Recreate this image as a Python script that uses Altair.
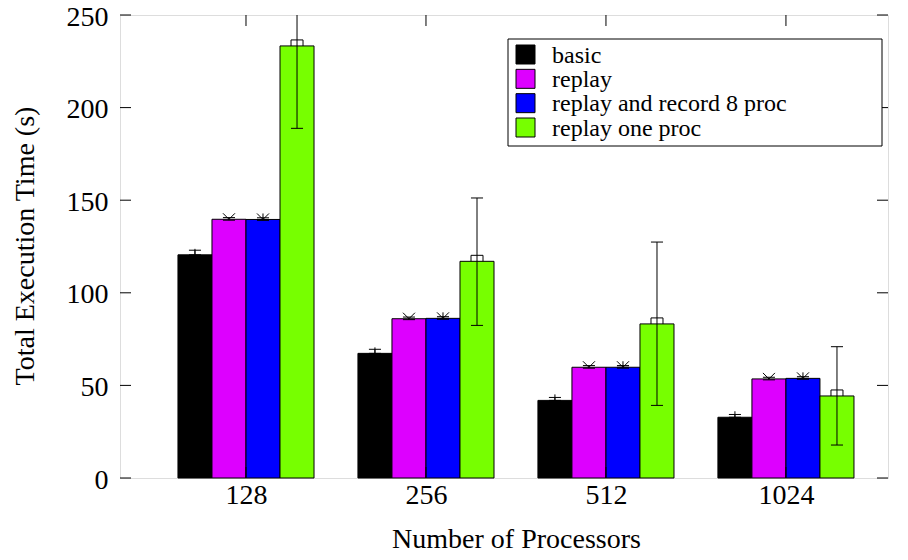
import altair as alt
import pandas as pd

categories = ["128", "256", "512", "1024"]
series = ["basic", "replay", "replay and record 8 proc", "replay one proc"]
colors = ["#000000", "#dd00ff", "#0000ff", "#77ff00"]

# bar heights (mean values)
bar_basic = [120.5, 67.3, 41.9, 32.8]
bar_replay = [139.7, 86.0, 59.8, 53.5]
bar_record8 = [139.6, 86.2, 59.8, 53.8]
bar_one = [233.3, 117.0, 83.2, 44.3]

# error bar ranges
lo_basic = [120.0, 66.8, 41.5, 32.3]
hi_basic = [123.0, 69.5, 43.5, 34.3]
lo_replay = [139.2, 85.5, 59.3, 53.0]
hi_replay = [140.6, 86.9, 60.7, 54.4]
lo_record8 = [139.1, 85.7, 59.3, 53.3]
hi_record8 = [140.5, 87.1, 60.7, 54.7]
lo_one = [188.8, 82.4, 39.2, 17.8]
hi_one = [280.0, 151.2, 127.4, 70.9]

y_ticks = [0, 50, 100, 150, 200, 250]
x_tick_pos = [0, 1, 2, 3]
x_domain = [-0.7, 3.567]

bars = [bar_basic, bar_replay, bar_record8, bar_one]
los = [lo_basic, lo_replay, lo_record8, lo_one]
his = [hi_basic, hi_replay, hi_record8, hi_one]
shape_paths = [
    "M-1,0L1,0M0,-1L0,1",
    "M-1,-1L1,1M-1,1L1,-1",
    "M-1,0L1,0M0,-1L0,1M-1,-1L1,1M-1,1L1,-1",
    "M-1,-1L1,-1L1,1L-1,1Z",
]

bar_w = 0.189
cap_w = 0.067
rows = []
for i, cat in enumerate(categories):
    for j, s in enumerate(series):
        c = i + (j - 1.5) * bar_w
        rows.append({
            "cat": cat, "series": s, "shp": s, "order": j,
            "c": c, "x0": c - bar_w / 2, "x1": c + bar_w / 2,
            "cl": c - cap_w / 2, "cr": c + cap_w / 2,
            "v": bars[j][i], "lo": los[j][i], "hi": his[j][i],
        })
df = pd.DataFrame(rows)

W, H = 768, 463
FONT = "Liberation Serif"

xscale = alt.Scale(domain=x_domain, nice=False, zero=False)
yscale = alt.Scale(domain=[0, 250], nice=False)
color_scale = alt.Scale(domain=series, range=colors)

label_expr = "[" + ",".join(f"'{c}'" for c in categories) + "][round(datum.value)]"

x_axis = alt.Axis(values=x_tick_pos, labelExpr=label_expr, tickSize=0, domain=False,
                  grid=False, labelPadding=3, labelFontSize=28, labelFont=FONT,
                  title="Number of Processors", titleFont=FONT, titleFontSize=28,
                  titleFontWeight="normal", titleX=396, titleY=69,
                  titleBaseline="alphabetic", titleAlign="center", labelColor="black",
                  titleColor="black")
y_axis = alt.Axis(values=y_ticks, tickSize=0, domain=False, grid=False,
                  labelPadding=12, labelFontSize=28, labelFont=FONT, labelOffset=2,
                  title="Total Execution Time (s)", titleFont=FONT, titleFontSize=28,
                  titleFontWeight="normal", titleX=-87, titleY=H / 2 - 1,
                  titleAngle=-90, titleBaseline="alphabetic", titleAlign="center",
                  labelColor="black", titleColor="black")

base = alt.Chart(df)

points = base.mark_point(filled=False, stroke="black", strokeWidth=1, size=144,
                         opacity=1).encode(
    x=alt.X("c:Q", scale=xscale, axis=x_axis),
    y=alt.Y("v:Q", scale=yscale, axis=y_axis),
    shape=alt.Shape("shp:N", scale=alt.Scale(domain=series, range=shape_paths),
                    legend=None),
)

bar_layer = base.mark_bar(stroke="black", strokeWidth=1, opacity=1).encode(
    x="x0:Q",
    x2="x1:Q",
    y="v:Q",
    y2=alt.datum(0),
    fill=alt.Fill("series:N", scale=color_scale, legend=None),
    order="order:Q",
)

err_v = base.mark_rule(color="black", strokeWidth=1, clip=True).encode(
    x="c:Q", y="lo:Q", y2="hi:Q")
cap_lo = base.mark_rule(color="black", strokeWidth=1, clip=True).encode(
    x="cl:Q", x2="cr:Q", y="lo:Q")
cap_hi = base.mark_rule(color="black", strokeWidth=1, clip=True).encode(
    x="cl:Q", x2="cr:Q", y="hi:Q")

yt = pd.DataFrame({"t": y_ticks})
xt = pd.DataFrame({"t": x_tick_pos})
TL = 11
tick_l = alt.Chart(yt).mark_rule(color="black").encode(
    y="t:Q", x=alt.value(0), x2=alt.value(TL))
tick_r = alt.Chart(yt).mark_rule(color="black").encode(
    y="t:Q", x=alt.value(W - TL), x2=alt.value(W))
tick_t = alt.Chart(xt).mark_rule(color="black").encode(
    x="t:Q", y=alt.value(0), y2=alt.value(TL))
tick_b = alt.Chart(xt).mark_rule(color="black").encode(
    x="t:Q", y=alt.value(H - TL), y2=alt.value(H))

main = alt.layer(points, bar_layer, err_v, cap_lo, cap_hi,
                 tick_l, tick_r, tick_t, tick_b)

# legend (box, swatches, labels)
leg_df = pd.DataFrame({"series": series})
leg_y = alt.Y("series:N", scale=alt.Scale(type="point", domain=series,
                                          range=[39.5, 112.5], padding=0), axis=None)
box = alt.Chart(pd.DataFrame({"k": [0]})).mark_rect(
    fill="white", stroke="black", strokeWidth=1).encode(
    x=alt.value(388), x2=alt.value(762), y=alt.value(24), y2=alt.value(131))
swatch = alt.Chart(leg_df).mark_square(size=361, stroke="black", strokeWidth=1,
                                       opacity=1).encode(
    x=alt.value(405.5), y=leg_y,
    fill=alt.Fill("series:N", scale=color_scale, legend=None))
leg_text = alt.Chart(leg_df).mark_text(align="left", baseline="middle", font=FONT,
                                       fontSize=24, color="black", dy=1).encode(
    x=alt.value(432), y=leg_y, text="series:N")
legend = alt.layer(box, swatch, leg_text)

chart = alt.layer(main, legend).resolve_scale(y="independent").resolve_axis(
    y="independent").properties(
    width=W, height=H,
    autosize=alt.AutoSizeParams(type="none"),
    padding={"left": 112, "top": 7, "right": 12, "bottom": 74},
).configure_view(stroke="black", strokeWidth=1.2).configure(
    background="white", font=FONT)

chart.save("out.html", embed_options={"renderer": "svg", "actions": False})
